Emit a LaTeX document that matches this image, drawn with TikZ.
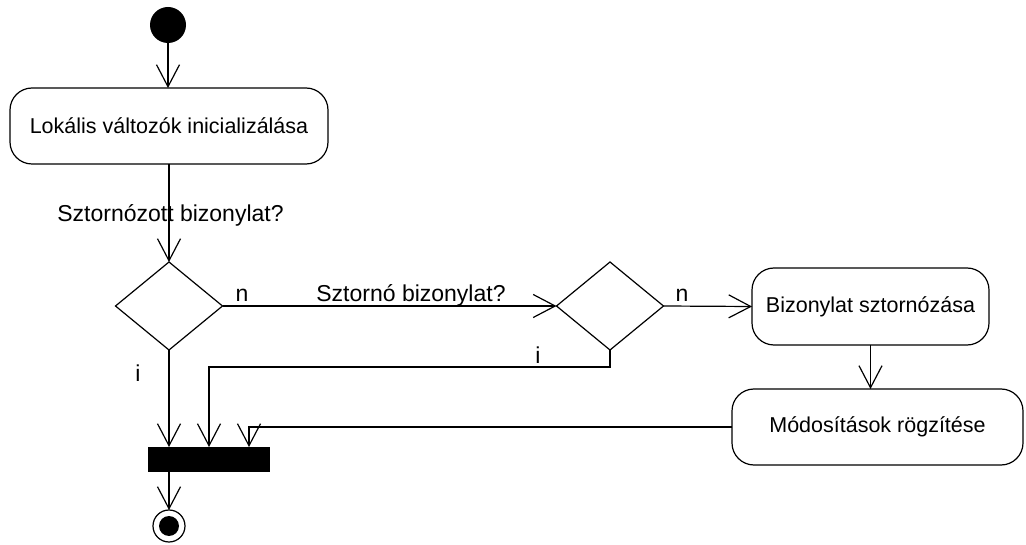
\documentclass[tikz,border=0pt]{standalone}
\usepackage{fontspec}
\setmainfont{Liberation Sans}
\usetikzlibrary{shapes.geometric,arrows.meta}

\tikzset{
  flow/.style={line width=1.2pt, draw=black,
    -{Straight Barb[length=22pt,width=23pt,line width=1.2pt]}},
  action/.style={draw, line width=1.2pt, rectangle, rounded corners=22pt,
    inner sep=0pt, outer sep=0pt, minimum height=76pt,
    font=\fontsize{21.5}{25}\selectfont},
  decision/.style={draw, line width=1.2pt, diamond, inner sep=0pt, outer sep=0pt,
    minimum width=107pt, minimum height=88pt},
  guard/.style={anchor=base, inner sep=0pt, font=\fontsize{23}{27}\selectfont},
  startnode/.style={circle, fill=black, inner sep=0pt, minimum size=36pt},
  endnode/.style={circle, draw, line width=1.2pt, inner sep=0pt, outer sep=0pt,
    minimum size=32pt},
  syncbar/.style={rectangle, fill=black, inner sep=0pt, outer sep=0pt,
    minimum width=122pt, minimum height=25pt},
}

\begin{document}
\begin{tikzpicture}[x=1pt, y=-1pt]
  \useasboundingbox (0,0) rectangle (1026,545);

  % nodes
  \node[startnode] (start) at (168,25) {};
  \node[action, minimum width=318pt] (lok) at (169,126) {Lokális változók inicializálása};
  \node[decision] (d1) at (169,306) {};
  \node[decision] (d2) at (610,306) {};
  \node[action, minimum width=237pt, minimum height=77pt] (biz) at (870.5,306.5) {Bizonylat sztornózása};
  \node[action, minimum width=291pt] (mod) at (877.5,427) {Módosítások rögzítése};
  \node[syncbar] (bar) at (209,459.5) {};
  \node[endnode] (end) at (169,526) {};
  \fill (end.center) circle (10pt);

  % guards
  \node[guard] (g1) at (170.5,222) {Sztornózott bizonylat?};
  \node[guard] (g2) at (242,302) {n};
  \node[guard] (g3) at (411,302) {Sztornó bizonylat?};
  \node[guard] (g4) at (682,302) {n};
  \node[guard] (g5) at (538,363) {i};
  \node[guard] (g6) at (138,382) {i};

  % inputs of the join bar
  \coordinate (in2) at (bar.north);
  \coordinate (in3) at ([xshift=40pt]bar.north);

  % connectors
  \draw[flow] (start.south) -- (start.south |- lok.north);
  \draw[flow] (lok.south) -- (d1.north);
  \draw[flow] (d1.east) -- (d2.west);
  \draw[flow] (d2.east) -- (biz.west);
  \draw[flow] (d2.south) -- ++(0,17) -| (in2);
  \draw[flow] (d1.south) -- (d1.south |- bar.north);
  \draw[flow] (biz.south) -- (biz.south |- mod.north);
  \draw[flow] (mod.west) -| (in3);
  \draw[flow] (end.north |- bar.south) -- (end.north);
\end{tikzpicture}
\end{document}
